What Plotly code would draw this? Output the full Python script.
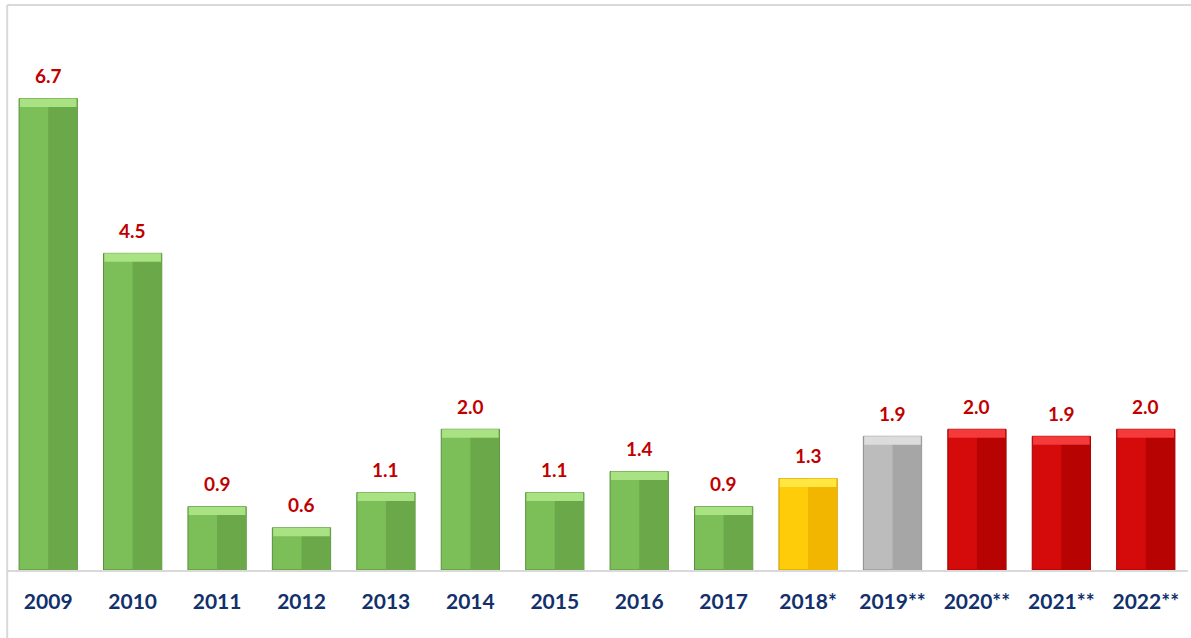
import plotly.graph_objects as go

categories = ["2009", "2010", "2011", "2012", "2013", "2014", "2015", "2016",
              "2017", "2018*", "2019**", "2020**", "2021**", "2022**"]
values = [6.7, 4.5, 0.9, 0.6, 1.1, 2.0, 1.1, 1.4, 0.9, 1.3, 1.9, 2.0, 1.9, 2.0]
kinds = ["actual"] * 9 + ["estimate", "forecast_base"] + ["forecast"] * 3

light = {"actual": "#7cbe58", "estimate": "#ffcc0a", "forecast_base": "#bcbcbc", "forecast": "#d50b0b"}
dark = {"actual": "#6ba84a", "estimate": "#f2b600", "forecast_base": "#a6a6a6", "forecast": "#b80303"}
top = {"actual": "#a8e283", "estimate": "#ffe640", "forecast_base": "#dcdcdc", "forecast": "#f43a3a"}
edge = {"actual": "#5a8f3c", "estimate": "#c99600", "forecast_base": "#8c8c8c", "forecast": "#9a0000"}

FONT = "Lato, 'Open Sans', sans-serif"
BAR_W = 0.69
idx = list(range(len(categories)))

fig = go.Figure()
fig.add_trace(go.Bar(
    x=idx, y=values, width=BAR_W,
    marker=dict(color=[light[k] for k in kinds],
                line=dict(color=[edge[k] for k in kinds], width=1)),
    hovertext=categories, hoverinfo="text+y", showlegend=False,
))
fig.add_trace(go.Bar(
    x=idx, y=values, width=BAR_W / 2, offset=0,
    marker=dict(color=[dark[k] for k in kinds], line=dict(width=0)),
    hoverinfo="skip", showlegend=False,
))
# top bevel highlight (thin band at the top of each bar)
fig.add_trace(go.Bar(
    x=idx, y=[0.12] * len(values), base=[v - 0.12 for v in values],
    width=BAR_W - 0.02,
    marker=dict(color=[top[k] for k in kinds], line=dict(width=0)),
    hoverinfo="skip", showlegend=False,
))

for i, v in zip(idx, values):
    fig.add_annotation(x=i, y=v, text=f"<b>{v:.1f}</b>", showarrow=False,
                       yshift=23, font=dict(family=FONT, size=19, color="#c00000"))

y_max = 8.03
fig.update_layout(
    barmode="overlay",
    width=1191, height=638,
    margin=dict(l=6, r=3, t=5, b=68),
    paper_bgcolor="white", plot_bgcolor="white",
    font=dict(family=FONT),
    xaxis=dict(
        range=[-0.5, len(categories) - 0.5],
        tickmode="array", tickvals=idx, ticktext=categories,
        showline=True, linecolor="#d9d9d9", linewidth=2,
        ticks="", showgrid=False, zeroline=False, ticklabelstandoff=12,
        tickfont=dict(family=FONT, size=21, color="#12306b", weight="bold"),
    ),
    yaxis=dict(range=[0, y_max], visible=False, showgrid=False),
    shapes=[
        dict(type="line", xref="paper", yref="paper", x0=0.001, x1=1.01, y0=1, y1=1,
             line=dict(color="#d9d9d9", width=2)),
        dict(type="line", xref="paper", yref="paper", x0=0.001, x1=0.001, y0=1, y1=-0.2,
             line=dict(color="#d9d9d9", width=2)),
    ],
)

fig.write_html("out.html", config={"displayModeBar": False},
               post_script="document.body.style.margin='0';")
